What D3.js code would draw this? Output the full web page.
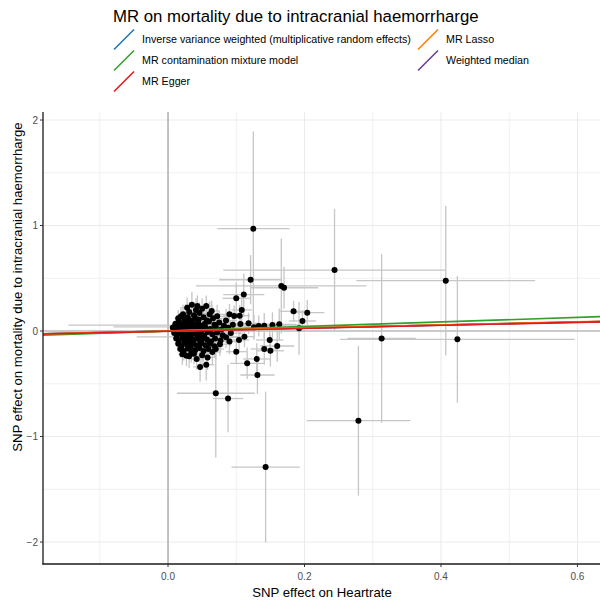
<!DOCTYPE html>
<html>
<head>
<meta charset="utf-8">
<script src="https://cdn.jsdelivr.net/npm/d3@7"></script>
<style>
  html, body { margin: 0; padding: 0; background: #fff; }
  svg { display: block; font-family: "Liberation Sans", Arial, sans-serif; }
</style>
</head>
<body>
<svg id="chart" width="600" height="601"></svg>
<script>
// ---------------- DATA ----------------
const titleText = "MR on mortality due to intracranial haemorrharge";
const xLabel = "SNP effect on Heartrate";
const yLabel = "SNP effect on mortality due to intracranial haemorrharge";

const xTicks = [0, 0.2, 0.4, 0.6];
const xTickLabels = ["0.0", "0.2", "0.4", "0.6"];
const xMinor = [-0.1, 0.1, 0.3, 0.5];
const yTicks = [-2, -1, 0, 1, 2];
const yTickLabels = ["\u22122", "\u22121", "0", "1", "2"];
const yMinor = [-1.5, -0.5, 0.5, 1.5];

// MR methods (legend order, column-major)
const methodNames = [
  "Inverse variance weighted (multiplicative random effects)",
  "MR contamination mixture model",
  "MR Egger",
  "MR Lasso",
  "Weighted median"
];
const methodColors = ["#1f78b4", "#33a02c", "#e31a1c", "#ff7f00", "#6a3d9a"];
const methodSlopes = [0.142, 0.215, 0.142, 0.146, 0.140];
const methodIntercepts = [0, 0, -0.003, 0, 0];
const drawOrder = [0, 4, 1, 3, 2];

// SNP effects: exposure beta (x), outcome beta (y), standard errors
const snpBx = [
  0.125,0.244,0.407,0.121,0.166,0.170,0.313,0.424,0.279,0.143,
  0.070,0.088,0.184,0.204,0.197,0.192,0.111,0.100,0.108,0.105,
  0.106,0.118,0.126,0.133,0.141,0.153,0.163,0.104,0.112,0.149,
  0.160,0.141,0.150,0.130,0.116,0.100,0.131,0.070,0.047,0.056,
  0.042,0.027,0.043,0.056,0.064,0.090,0.097,0.025,0.030,0.020,
  0.028,0.035,0.041,0.05,0.031,0.046,0.061,0.022,0.038,0.072,
  0.015,0.019,0.024,0.029,0.033,0.04,0.045,0.052,0.057,0.066,
  0.011,0.016,0.021,0.026,0.03,0.035,0.039,0.044,0.049,0.054,0.06,0.068,0.075,0.082,
  0.007,0.012,0.017,0.02,0.024,0.028,0.032,0.036,0.041,0.046,0.05,0.055,0.062,0.07,0.078,0.088,
  0.009,0.013,0.018,0.022,0.026,0.03,0.034,0.038,0.043,0.048,0.053,0.058,0.065,0.072,0.08,0.092,
  0.012,0.016,0.021,0.025,0.029,0.033,0.037,0.042,0.047,0.052,0.057,0.063,0.069,0.077,0.085,
  0.015,0.02,0.024,0.028,0.033,0.038,0.043,0.049,0.055,0.061,0.068,0.076,
  0.018,0.023,0.029,0.034,0.04,0.046,0.052,0.059,0.065,
  0.021,0.031,0.038,0.05,0.058,
  0.02,0.025,0.03,0.035,0.04,0.045,0.027,0.032,0.018,0.05,0.014,0.01,0.085,0.09,0.095
];
const snpBy = [
  0.97,0.578,0.477,0.486,0.427,0.41,-0.07,-0.079,-0.85,-1.29,
  -0.59,-0.64,0.187,0.174,0.095,0.025,0.345,0.31,0.20,0.145,
  0.066,0.073,0.035,0.047,0.05,0.057,0.063,-0.085,-0.054,-0.085,
  -0.142,-0.17,-0.187,-0.265,-0.306,-0.196,-0.417,-0.17,-0.34,-0.32,
  -0.265,-0.234,0.237,0.237,0.19,0.158,0.142,0.055,-0.055,0.04,
  0.22,0.25,0.2,0.21,0.18,0.17,0.16,0.16,0.15,0.14,
  0.12,0.14,0.11,0.13,0.10,0.12,0.11,0.13,0.10,0.12,
  0.07,0.09,0.06,0.08,0.05,0.09,0.06,0.08,0.05,0.07,0.09,0.06,0.08,0.05,
  0.03,0.02,0.04,0.01,0.035,0.015,0.03,0.005,0.025,0.04,0.01,0.03,0.02,0.035,0.015,0.03,
  -0.02,-0.04,-0.01,-0.03,-0.045,-0.015,-0.035,-0.005,-0.04,-0.02,-0.045,-0.01,-0.03,-0.015,-0.04,-0.02,
  -0.07,-0.09,-0.06,-0.08,-0.1,-0.065,-0.085,-0.07,-0.095,-0.06,-0.08,-0.1,-0.07,-0.09,-0.06,
  -0.12,-0.14,-0.11,-0.13,-0.15,-0.12,-0.14,-0.115,-0.135,-0.12,-0.145,-0.125,
  -0.17,-0.19,-0.165,-0.2,-0.18,-0.16,-0.19,-0.17,-0.2,
  -0.22,-0.24,-0.215,-0.23,-0.25,
  0.0,0.0,-0.06,0.04,-0.02,0.0,0.1,-0.12,0.05,-0.07,-0.005,0.045,0.1,-0.1,0.06
];
const snpSeX = [
  0.053,0.163,0.131,0.046,0.125,0.05,0.05,0.172,0.076,0.05,
  0.057,0.022,0.02,0.025,0.02,0.03,0.03,0.02,0.015,0.015,
  0.012,0.015,0.015,0.02,0.02,0.02,0.025,0.015,0.015,0.02,
  0.025,0.02,0.02,0.02,0.025,0.015,0.025,0.012,0.01,0.012,
  0.01,0.01,0.01,0.01,0.012,0.015,0.015,0.171,0.076,0.1,
  0.008,0.01,0.009,0.012,0.007,0.01,0.014,0.006,0.008,0.015,
  0.005,0.006,0.006,0.008,0.007,0.009,0.01,0.012,0.011,0.014,
  0.004,0.005,0.005,0.006,0.006,0.008,0.008,0.009,0.01,0.011,0.012,0.013,0.015,0.016,
  0.004,0.004,0.005,0.005,0.006,0.006,0.007,0.007,0.008,0.009,0.01,0.011,0.012,0.014,0.015,0.017,
  0.004,0.004,0.005,0.005,0.006,0.006,0.007,0.007,0.008,0.009,0.01,0.011,0.012,0.014,0.015,0.018,
  0.004,0.005,0.005,0.006,0.007,0.007,0.008,0.008,0.009,0.01,0.011,0.012,0.013,0.015,0.016,
  0.005,0.005,0.006,0.007,0.008,0.008,0.009,0.01,0.011,0.012,0.013,0.014,
  0.005,0.006,0.007,0.008,0.009,0.009,0.01,0.012,0.013,
  0.006,0.007,0.008,0.01,0.012,
  0.005,0.006,0.007,0.007,0.008,0.009,0.006,0.007,0.005,0.01,0.004,0.004,0.016,0.017,0.018
];
const snpSeY = [
  0.92,0.578,0.708,0.234,0.45,0.2,0.80,0.60,0.71,0.715,
  0.61,0.32,0.10,0.12,0.10,0.25,0.2,0.15,0.12,0.1,
  0.1,0.1,0.12,0.1,0.12,0.12,0.15,0.12,0.1,0.12,
  0.15,0.15,0.15,0.15,0.15,0.12,0.18,0.1,0.14,0.15,
  0.1,0.1,0.1,0.1,0.1,0.1,0.1,0.08,0.1,0.09,
  0.1,0.12,0.11,0.1,0.09,0.1,0.12,0.09,0.08,0.11,
  0.08,0.09,0.07,0.08,0.07,0.08,0.09,0.1,0.08,0.1,
  0.06,0.07,0.06,0.07,0.06,0.08,0.07,0.08,0.07,0.09,0.1,0.09,0.11,0.1,
  0.05,0.05,0.06,0.05,0.06,0.05,0.06,0.06,0.07,0.07,0.07,0.08,0.09,0.1,0.1,0.12,
  0.05,0.05,0.05,0.06,0.06,0.05,0.06,0.06,0.07,0.07,0.08,0.08,0.09,0.1,0.1,0.12,
  0.06,0.07,0.06,0.07,0.08,0.07,0.08,0.07,0.08,0.08,0.09,0.1,0.09,0.11,0.1,
  0.07,0.08,0.07,0.08,0.09,0.08,0.09,0.09,0.1,0.1,0.11,0.11,
  0.08,0.09,0.09,0.1,0.1,0.09,0.1,0.11,0.12,
  0.1,0.11,0.1,0.12,0.12,
  0.05,0.05,0.07,0.06,0.06,0.07,0.08,0.08,0.06,0.08,0.05,0.05,0.11,0.12,0.12
];

// ---------------- CHART ----------------
const svg = d3.select("#chart");
const FONT = "'Liberation Sans', Arial, sans-serif";
const panel = { left: 43, right: 600, top: 112, bottom: 564 };

const x = d3.scaleLinear().domain([-0.1832, 0.633]).range([panel.left, panel.right]);
const y = d3.scaleLinear().domain([-2.2085, 2.076]).range([panel.bottom, panel.top]);

const n = Math.min(snpBx.length, snpBy.length, snpSeX.length, snpSeY.length);
const snps = d3.range(n).map(i => ({ bx: snpBx[i], by: snpBy[i], sx: snpSeX[i], sy: snpSeY[i] }));

svg.append("defs").append("clipPath").attr("id", "clip")
  .append("rect").attr("x", panel.left).attr("y", panel.top)
  .attr("width", panel.right - panel.left).attr("height", panel.bottom - panel.top);

const grid = svg.append("g");
grid.selectAll(".xminor").data(xMinor).join("line")
  .attr("x1", d => x(d)).attr("x2", d => x(d))
  .attr("y1", panel.top).attr("y2", panel.bottom)
  .attr("stroke", "#f0f0f0").attr("stroke-width", 1);
grid.selectAll(".yminor").data(yMinor).join("line")
  .attr("y1", d => y(d)).attr("y2", d => y(d))
  .attr("x1", panel.left).attr("x2", panel.right)
  .attr("stroke", "#f0f0f0").attr("stroke-width", 1);
grid.selectAll(".xmajor").data(xTicks).join("line")
  .attr("x1", d => x(d)).attr("x2", d => x(d))
  .attr("y1", panel.top).attr("y2", panel.bottom)
  .attr("stroke", "#ebebeb").attr("stroke-width", 1.1);
grid.selectAll(".ymajor").data(yTicks).join("line")
  .attr("y1", d => y(d)).attr("y2", d => y(d))
  .attr("x1", panel.left).attr("x2", panel.right)
  .attr("stroke", "#ebebeb").attr("stroke-width", 1.1);

// zero reference lines
svg.append("line").attr("x1", x(0)).attr("x2", x(0))
  .attr("y1", panel.top).attr("y2", panel.bottom)
  .attr("stroke", "#a6a6a6").attr("stroke-width", 1.3);
svg.append("line").attr("y1", y(0)).attr("y2", y(0))
  .attr("x1", panel.left).attr("x2", panel.right)
  .attr("stroke", "#bdbdbd").attr("stroke-width", 1.3);

const plot = svg.append("g").attr("clip-path", "url(#clip)");

// error bars
const barColor = "#c6c6c6";
plot.append("g").selectAll("line").data(snps).join("line")
  .attr("x1", d => x(d.bx)).attr("x2", d => x(d.bx))
  .attr("y1", d => y(d.by - d.sy)).attr("y2", d => y(d.by + d.sy))
  .attr("stroke", barColor).attr("stroke-width", 1.3);
plot.append("g").selectAll("line").data(snps).join("line")
  .attr("y1", d => y(d.by)).attr("y2", d => y(d.by))
  .attr("x1", d => x(d.bx - d.sx)).attr("x2", d => x(d.bx + d.sx))
  .attr("stroke", barColor).attr("stroke-width", 1.3);

// points
plot.append("g").selectAll("circle").data(snps).join("circle")
  .attr("cx", d => x(d.bx)).attr("cy", d => y(d.by)).attr("r", 3)
  .attr("fill", "#000");

// regression lines
const xd = x.domain();
plot.append("g").selectAll("line").data(drawOrder).join("line")
  .attr("x1", x(xd[0])).attr("x2", x(xd[1]))
  .attr("y1", i => y(methodIntercepts[i] + methodSlopes[i] * xd[0]))
  .attr("y2", i => y(methodIntercepts[i] + methodSlopes[i] * xd[1]))
  .attr("stroke", i => methodColors[i]).attr("stroke-width", 1.6);

// axes lines
svg.append("line").attr("x1", panel.left).attr("x2", panel.left)
  .attr("y1", panel.top).attr("y2", panel.bottom + 0.6)
  .attr("stroke", "#1a1a1a").attr("stroke-width", 1.3);
svg.append("line").attr("x1", panel.left - 0.6).attr("x2", panel.right)
  .attr("y1", panel.bottom).attr("y2", panel.bottom)
  .attr("stroke", "#1a1a1a").attr("stroke-width", 1.3);

// ticks + labels
const xAxisG = svg.append("g");
xAxisG.selectAll("line").data(xTicks).join("line")
  .attr("x1", d => x(d)).attr("x2", d => x(d))
  .attr("y1", panel.bottom).attr("y2", panel.bottom + 3)
  .attr("stroke", "#333").attr("stroke-width", 1);
xAxisG.selectAll("text").data(xTicks).join("text")
  .attr("x", d => x(d)).attr("y", 580)
  .attr("text-anchor", "middle").attr("font-size", "10px")
  .attr("fill", "#4d4d4d").attr("font-family", FONT)
  .text((d, i) => xTickLabels[i]);

const yAxisG = svg.append("g");
yAxisG.selectAll("line").data(yTicks).join("line")
  .attr("y1", d => y(d)).attr("y2", d => y(d))
  .attr("x1", panel.left - 3).attr("x2", panel.left)
  .attr("stroke", "#333").attr("stroke-width", 1);
yAxisG.selectAll("text").data(yTicks).join("text")
  .attr("x", panel.left - 5).attr("y", d => y(d)).attr("dy", "0.35em")
  .attr("text-anchor", "end").attr("font-size", "10px")
  .attr("fill", "#4d4d4d").attr("font-family", FONT)
  .text((d, i) => yTickLabels[i]);

// axis titles
svg.append("text").attr("x", 322).attr("y", 597)
  .attr("text-anchor", "middle").attr("font-size", "13.2px")
  .attr("fill", "#000").attr("font-family", FONT).text(xLabel);
svg.append("text").attr("transform", "translate(21.5,287) rotate(-90)")
  .attr("text-anchor", "middle").attr("font-size", "13.2px")
  .attr("fill", "#000").attr("font-family", FONT).text(yLabel);

// title
svg.append("text").attr("x", 113).attr("y", 22)
  .attr("font-size", "16.8px").attr("fill", "#000").attr("font-family", FONT)
  .text(titleText);

// legend
const legendCols = [114, 418];
const legendRows = [39.5, 60.5, 81.5];
const leg = svg.append("g");
methodNames.forEach((name, i) => {
  const col = Math.floor(i / 3), row = i % 3;
  const kx = legendCols[col], ky = legendRows[row];
  leg.append("line")
    .attr("x1", kx).attr("y1", ky + 10).attr("x2", kx + 20).attr("y2", ky - 10)
    .attr("stroke", methodColors[i]).attr("stroke-width", 1.6);
  leg.append("text").attr("x", kx + 28).attr("y", ky).attr("dy", "0.35em")
    .attr("font-size", "10.7px").attr("fill", "#000").attr("font-family", FONT)
    .text(name);
});
</script>
</body>
</html>
